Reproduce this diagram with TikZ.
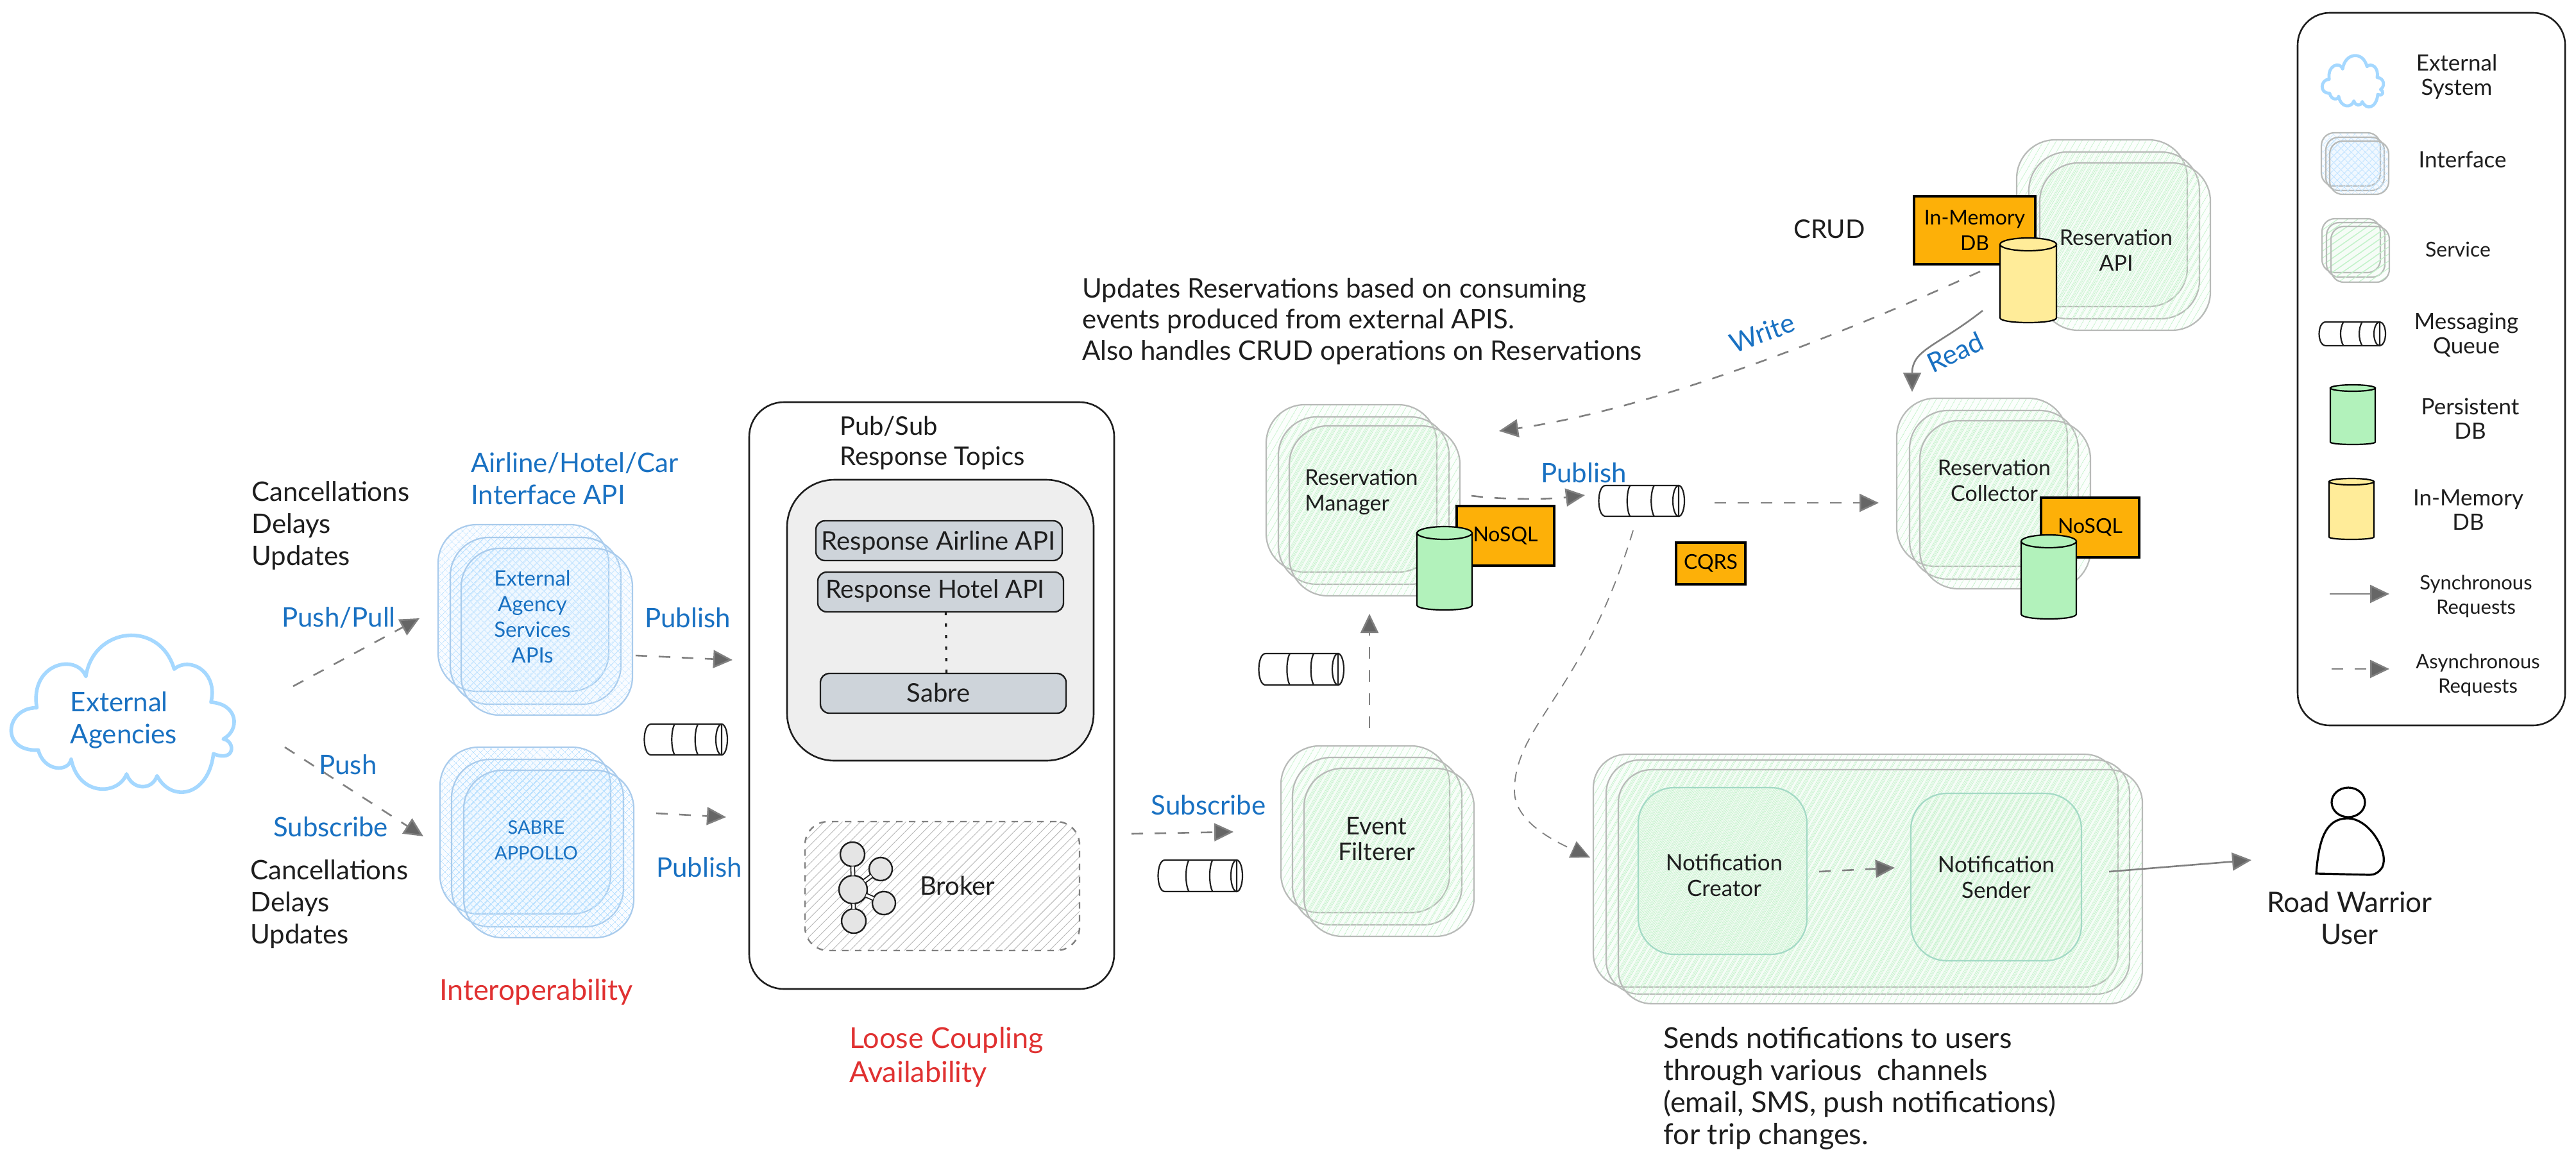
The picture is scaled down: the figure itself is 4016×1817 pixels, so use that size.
\documentclass[tikz,border=0pt]{standalone}
\usepackage{fontspec}
\setmainfont{Lato}
\usetikzlibrary{arrows.meta,patterns.meta,calc,positioning,shapes.geometric}
\definecolor{inkc}{HTML}{1E1E1E}
\definecolor{bluet}{HTML}{1971C2}
\definecolor{redt}{HTML}{E03131}
\definecolor{cloudb}{HTML}{A5D8FF}
\definecolor{ifcline}{HTML}{A9CBEC}
\definecolor{ifchatch}{HTML}{BCE2FF}
\definecolor{svcline}{HTML}{B8BAB8}
\definecolor{svchatch}{HTML}{C4F3CB}
\definecolor{innerline}{HTML}{A3D9C5}
\definecolor{arrowc}{HTML}{808080}
\definecolor{arrowf}{HTML}{666666}
\definecolor{orangeb}{HTML}{FDB008}
\definecolor{greend}{HTML}{B2F2BB}
\definecolor{yellowd}{HTML}{FFEC99}
\definecolor{topicg}{HTML}{EEEEEE}
\definecolor{topicb}{HTML}{CED4DA}
\tikzset{
  frame/.style={rectangle,draw=inkc,line width=1.3pt,inner sep=0pt,outer sep=0pt},
  svcbox/.style={rectangle,inner sep=0pt,outer sep=0pt,draw=svcline,line width=1.1pt,rounded corners=30pt,
    preaction={fill=svchatch,fill opacity=.05},
    pattern={Lines[angle=60,distance=4pt,line width=.45pt]},pattern color=svchatch},
  ifcbox/.style={rectangle,inner sep=0pt,outer sep=0pt,draw=ifcline,line width=1.1pt,rounded corners=30pt,
    preaction={fill=ifchatch,fill opacity=.07},
    preaction={pattern={Lines[angle=45,distance=4pt,line width=.35pt]},pattern color=ifchatch},
    pattern={Lines[angle=-45,distance=4pt,line width=.35pt]},pattern color=ifchatch},
  legsvc/.style={svcbox,rounded corners=10pt,pattern={Lines[angle=35,distance=4.5pt,line width=.55pt]}},
  legifc/.style={ifcbox,draw=svcline,rounded corners=10pt},
  bignotif/.style={svcbox,rounded corners=26pt},
  innernotif/.style={svcbox,draw=innerline,rounded corners=28pt},
  orangebox/.style={rectangle,draw=black,fill=orangeb,line width=1.6pt,inner sep=0pt,outer sep=0pt,align=center,
    font=\fontsize{16}{20}\selectfont,text=black},
  topicbox/.style={frame,fill=topicb,rounded corners=7pt,line width=1.2pt},
  hidden/.style={rectangle,inner sep=0pt,outer sep=0pt},
  txtL/.style={inner sep=0pt,align=left,font=\fontsize{21}{25}\selectfont,text=inkc},
  txtS/.style={inner sep=0pt,align=center,font=\fontsize{17}{20}\selectfont,text=inkc},
  txtI/.style={inner sep=0pt,align=center,font=\fontsize{16.5}{20}\selectfont,text=bluet},
  txtLeg/.style={inner sep=0pt,align=center,font=\fontsize{17.5}{19}\selectfont,text=inkc},
  bluelbl/.style={txtL,text=bluet},
  redlbl/.style={txtL,text=redt,font=\fontsize{22.5}{26.5}\selectfont},
  asyncarr/.style={draw=arrowc,line width=1.3pt,dash pattern=on 9pt off 9pt,
    -{Triangle[length=15pt,width=14pt,fill=arrowf]}},
  asyncthin/.style={draw=arrowc,line width=.9pt,dash pattern=on 8pt off 6pt,
    -{Triangle[length=15pt,width=14pt,fill=arrowf]}},
  syncarr/.style={draw=arrowc,line width=1.3pt,
    -{Triangle[length=15pt,width=14pt,fill=arrowf]}},
  dbline/.style={draw=black,line width=1.1pt},
  qline/.style={draw=inkc,line width=1.1pt},
  brokerball/.style={circle,draw=inkc,line width=1.2pt,fill=white!90!black,inner sep=0pt,outer sep=0pt},
  brokerlink/.style={draw=inkc,line width=.9pt,double=white,double distance=2pt},
  userline/.style={draw=black,line width=1.6pt,fill=white},
}
\newcommand{\boxat}[6]{% name, style, x0,y0,x1,y1
  \pgfmathsetmacro\rsW{(#5-#3)*.5}\pgfmathsetmacro\rsH{(#6-#4)*.5}%
  \pgfmathsetmacro\rsX{(#5+#3)*.5}\pgfmathsetmacro\rsY{(#6+#4)*.5}%
  \node[#2,minimum width=\rsW pt,minimum height=\rsH pt] (#1) at (\rsX,\rsY) {};}
\newcommand{\dbcyl}[7]{% name,x0,y0,x1,y1,colour,ry(pt)
  \boxat{#1}{hidden}{#2}{#3+2*#7}{#4}{#5-1.5*#7}
  \pgfmathsetmacro\rsR{(#4-#2)*.25}%
  \draw[dbline,fill=#6] (#1.north west) -- (#1.south west)
     .. controls ([yshift=-#7 pt]#1.south west) and ([yshift=-#7 pt]#1.south east) .. (#1.south east)
     -- (#1.north east) -- cycle;
  \draw[dbline,fill=#6] (#1.north) ellipse [x radius=\rsR pt,y radius=#7 pt];}
\newcommand{\queuebar}[5]{% name,x0,y0,x1,y1
  \boxat{#1}{hidden}{#2}{#3}{#4}{#5}
  \pgfmathsetmacro\rsR{(#5-#3)*.25}%
  \draw[qline,fill=white] ([xshift=5pt]#1.north west) -- ([xshift=-5pt]#1.north east)
     -- ([xshift=-5pt]#1.south east) -- ([xshift=5pt]#1.south west)
     .. controls ([xshift=-2pt]#1.south west) and ([xshift=-2pt]#1.north west) .. cycle;
  \draw[qline] ([xshift=-5pt]#1.east) ellipse [x radius=4.5pt,y radius=\rsR pt];
  \draw[qline] ($(#1.north west)!.36!(#1.north east)$) .. controls +(-3pt,-5pt) and +(-3pt,5pt) .. ($(#1.south west)!.36!(#1.south east)$);
  \draw[qline] ($(#1.north west)!.64!(#1.north east)$) .. controls +(-3pt,-5pt) and +(-3pt,5pt) .. ($(#1.south west)!.64!(#1.south east)$);}
\newcommand{\cloudoutline}{(75,790) .. controls (60,670) and (155,640) .. (175,705)
  .. controls (190,570) and (325,550) .. (355,685)
  .. controls (385,650) and (445,690) .. (430,775)
  .. controls (485,780) and (490,850) .. (455,875)
  .. controls (480,880) and (480,940) .. (435,915)
  .. controls (425,1030) and (350,1050) .. (320,975)
  .. controls (310,1015) and (270,1015) .. (258,970)
  .. controls (240,1030) and (160,1030) .. (145,930)
  .. controls (140,965) and (90,965) .. (78,905)
  .. controls (0,910) and (10,790) .. cycle}
\begin{document}
\begin{tikzpicture}[x=.5pt,y=-.5pt]
\path[use as bounding box,fill=white] (0,0) rectangle (4016,1817);

% ---- external agencies
\begin{scope}[x=.3825pt,y=-.287pt,yshift=-325pt]
  \draw[draw=cloudb,line width=2.8pt,line join=round] \cloudoutline;
\end{scope}
\boxat{cloud}{hidden}{17}{989}{366}{1235}
\node[bluelbl,align=left] (cloudtxt) at (193,1123) {External\\Agencies};

% ---- interface stacks
\boxat{ifa}{ifcbox}{683}{818}{949}{1078}
\boxat{ifb}{ifcbox}{702}{838}{968}{1098}
\boxat{ifc}{ifcbox}{719}{855}{986}{1115}
\node[txtI] (iftxt) at (830,961) {External\\Agency\\Services\\APIs};
\boxat{iga}{ifcbox}{686}{1165}{952}{1425}
\boxat{igb}{ifcbox}{704}{1184}{972}{1445}
\boxat{igc}{ifcbox}{723}{1201}{988}{1462}
\node[txtI,font=\fontsize{14.5}{20}\selectfont] (igtxt) at (836,1310) {SABRE\\APPOLLO};

\node[bluelbl,anchor=west] (apilbl) at (734,746) {Airline/Hotel/Car\\Interface API};
\node[txtL,anchor=west] (cdu1) at (392,820) {Cancellations\\Delays\\Updates};
\node[txtL,anchor=west] (cdu2) at (390,1410) {Cancellations\\Delays\\Updates};
\node[bluelbl,anchor=west] (pp) at (439,963) {Push/Pull};
\node[bluelbl,anchor=west] (pushl) at (497,1192) {Push};
\node[bluelbl,anchor=west] (subl) at (426,1289) {Subscribe};
\node[bluelbl,anchor=west] (publ1) at (1005,963) {Publish};
\node[bluelbl,anchor=west] (publ2) at (1023,1352) {Publish};
\node[redlbl,anchor=center] (interop) at (836,1547) {Interoperability};
\queuebar{q1}{1005}{1129}{1135}{1177}

% ---- pub/sub
\boxat{pubsub}{frame,rounded corners=27pt,fill=white}{1168}{627}{1737}{1542}
\node[txtL,font=\fontsize{20}{23.5}\selectfont,anchor=west] (pubtitle) at (1309,691) {Pub/Sub\\Response Topics};
\boxat{topics}{frame,rounded corners=37pt,fill=topicg}{1227}{748}{1705}{1186}
\boxat{tair}{topicbox}{1272}{812}{1656}{874}
\boxat{thot}{topicbox}{1275}{892}{1658}{954}
\boxat{tsab}{topicbox}{1279}{1050}{1662}{1112}
\node[txtL,font=\fontsize{20}{22}\selectfont] (tairt) at (1463,846) {Response Airline API};
\node[txtL,font=\fontsize{19.6}{22}\selectfont] (thott) at (1458,921) {Response Hotel API};
\node[txtL,font=\fontsize{20}{22}\selectfont] (tsabt) at (1463,1080) {Sabre};
\draw[draw=inkc,line width=1.6pt,dash pattern=on 2.5pt off 6.5pt] ([xshift=4pt]thot.south) -- ([xshift=2.5pt]tsab.north);
\boxat{brokerb}{rectangle,inner sep=0pt,draw=black!50,line width=1.2pt,rounded corners=18pt,dash pattern=on 5pt off 5pt,
   pattern={Lines[angle=45,distance=5pt,line width=.45pt]},pattern color=black!28}{1255}{1281}{1683}{1482}
\node[brokerball,minimum size=22pt] (bkc) at (1330,1387) {};
\node[brokerball,minimum size=19pt] (bkt) at (1329,1332) {};
\node[brokerball,minimum size=18pt] (bku) at (1373,1355) {};
\node[brokerball,minimum size=18pt] (bkl) at (1378,1408) {};
\node[brokerball,minimum size=19pt] (bkb) at (1331,1436) {};
\draw[brokerlink] (bkc) -- (bkt);
\draw[brokerlink] (bkc) -- (bku);
\draw[brokerlink] (bkc) -- (bkl);
\draw[brokerlink] (bkc) -- (bkb);
\node[txtL,font=\fontsize{20}{25}\selectfont,anchor=west] (brokert) at (1434,1381) {Broker};
\node[redlbl,anchor=west] (loose) at (1324,1648) {Loose Coupling\\Availability};

% ---- event filterer, manager
\node[bluelbl] (subl2) at (1884,1255) {Subscribe};
\queuebar{q2}{1806}{1341}{1938}{1390}
\queuebar{q3}{1963}{1019}{2096}{1068}
\boxat{fa}{svcbox}{1997}{1163}{2260}{1423}
\boxat{fb}{svcbox}{2015}{1181}{2279}{1442}
\boxat{fc}{svcbox}{2033}{1198}{2298}{1460}
\node[txtS,font=\fontsize{19}{20}\selectfont] (ftxt) at (2146,1308) {Event\\Filterer};
\boxat{ma}{svcbox}{1974}{631}{2240}{892}
\boxat{mb}{svcbox}{1993}{650}{2259}{911}
\boxat{mc}{svcbox}{2010}{664}{2276}{929}
\node[txtS,align=left,anchor=west] (mtxt) at (2034,767) {Reservation\\Manager};
\node[orangebox,minimum width=76pt,minimum height=46.5pt] (mnosql) at (2347,835.5) {NoSQL};
\dbcyl{mdb}{2209}{831}{2295}{941}{greend}{5}
\node[txtL,font=\fontsize{21}{24.2}\selectfont,anchor=west] (updt) at (1687,501) {Updates Reservations based on consuming\\events produced from external APIS.\\Also handles CRUD operations on Reservations};
\node[bluelbl] (publ3) at (2469,737) {Publish};
\queuebar{q4}{2493}{757}{2627}{805}
\node[orangebox,minimum width=54pt,minimum height=32.5pt] (cqrs) at (2667,878.5) {CQRS};

% ---- reservation API
\node[txtL,font=\fontsize{20}{22}\selectfont] (crud) at (2852,357) {CRUD};
\boxat{aa}{svcbox}{3144}{218}{3410}{478}
\boxat{ab}{svcbox}{3163}{237}{3429}{497}
\boxat{ac}{svcbox}{3180}{254}{3446}{515}
\node[txtS] (atxt) at (3299,390) {Reservation\\API};
\node[orangebox,minimum width=94.5pt,minimum height=53pt] (ammem) at (3078.5,359) {In-Memory\\DB};
\dbcyl{adb}{3118}{381}{3206}{493}{yellowd}{5}
\node[bluelbl,rotate=20] (writel) at (2747,519) {Write};
\node[bluelbl,rotate=25] (readl) at (3048,549) {Read};

% ---- collector
\boxat{ca}{svcbox}{2957}{621}{3223}{883}
\boxat{cb}{svcbox}{2977}{640}{3240}{903}
\boxat{cc}{svcbox}{2993}{656}{3259}{918}
\node[txtS] (ctxt) at (3109,749) {Reservation\\Collector};
\node[orangebox,minimum width=76.5pt,minimum height=46.5pt] (cnosql) at (3258.5,822.5) {NoSQL};
\dbcyl{cdb}{3151}{844}{3237}{955}{greend}{5}

% ---- notification
\boxat{na}{bignotif}{2484}{1176}{3302}{1539}
\boxat{nb}{bignotif}{2504}{1185}{3320}{1550}
\boxat{nc}{bignotif}{2523}{1200}{3340}{1565}
\boxat{ncr}{innernotif}{2554}{1228}{2817}{1488}
\boxat{nse}{innernotif}{2979}{1237}{3245}{1498}
\node[txtS,font=\fontsize{17.5}{20}\selectfont] (ncrt) at (2688,1365) {Notification\\Creator};
\node[txtS,font=\fontsize{17.5}{20}\selectfont] (nset) at (3112,1368) {Notification\\Sender};
\node[txtL,font=\fontsize{22.5}{25}\selectfont,anchor=west] (sends) at (2593,1697) {Sends notifications to users\\through various\ \ channels\\(email, SMS, push notifications)\\for trip changes.};

% ---- user
\boxat{user}{hidden}{3611}{1228}{3716}{1364}
\draw[userline] (3611,1362) .. controls (3615,1310) and (3625,1276) .. (3660,1276)
   .. controls (3695,1276) and (3725,1330) .. (3714,1352) .. controls (3708,1362) and (3700,1364) .. (3694,1364) -- cycle;
\node[ellipse,minimum width=26pt,minimum height=23pt,inner sep=0pt,userline] (uhead) at (3661,1251) {};
\node[txtL,align=center,font=\fontsize{22}{25}\selectfont] (usert) at (3663,1431) {Road Warrior\\User};

% ---- connectors
\draw[asyncarr] ([shift={(91,-42)}]cloud.east) -- ([shift={(-29,16)}]ifa.west);
\draw[asyncarr] ([shift={(78,53)}]cloud.east) -- ([shift={(-26,9)}]iga.west);
\draw[asyncarr] ([shift={(5,37)}]ifc.east) -- ([shift={(-26,-55.5)}]pubsub.west);
\draw[asyncarr] ([shift={(35,-63.5)}]igc.east) -- ([shift={(-36,189.5)}]pubsub.west);
\draw[asyncarr] ([shift={(27,215.5)}]pubsub.east) -- ([shift={(-74,4)}]fa.west);
\draw[asyncarr] ([shift={(6.5,-28)}]fa.north) -- ([shift={(-8,28)}]mc.south);
\draw[asyncarr] ([shift={(18,-23.5)}]mc.east) .. controls +(28pt,-3.5pt) and +(-25pt,-3pt) .. ([shift={(-22,-9)}]q4.west);
\draw[asyncarr] ([shift={(46,3)}]q4.east) -- ([shift={(-28,32)}]ca.west);
\draw[asyncarr] ([shift={(-75,-15)}]adb.center) .. controls (2830,540) and (2560,640) .. ([shift={(61,-124.5)}]mc.east);
\draw[syncarr] ([shift={(-71,46)}]adb.center) .. controls (3020,540) and (2981,545) .. ([shift={(-109,-10)}]ca.north);
\draw[asyncthin] ([shift={(-14,22)}]q4.south) .. controls (2470,1080) and (2361,1130) .. (2361,1233)
    .. controls (2361,1280) and (2420,1310) .. ([shift={(-5,-20.5)}]na.west);
\draw[asyncarr] ([shift={(19,1)}]ncr.east) -- ([shift={(-25,-14.5)}]nse.west);
\draw[syncarr] ([shift={(43,-8.5)}]nse.east) -- ([shift={(-101,45)}]user.west);

% ---- legend
\boxat{legend}{frame,rounded corners=25pt,fill=white}{3582}{20}{3999}{1131}
\begin{scope}[x=.10525pt,y=-.094pt,xshift=1807.7pt,yshift=12.46pt]
  \draw[draw=cloudb,line width=2.4pt,line join=round] \cloudoutline;
\end{scope}
\node[txtLeg] (l1) at (3830,120) {External\\System};
\boxat{lia}{legifc}{3619}{207}{3711}{290}
\boxat{lib}{legifc}{3626}{214}{3717}{297}
\boxat{lic}{legifc}{3632}{220}{3724}{303}
\node[txtLeg] (l2) at (3839,249) {Interface};
\boxat{lsa}{legsvc}{3620}{341}{3711}{425}
\boxat{lsb}{legsvc}{3627}{347}{3718}{432}
\boxat{lsc}{legsvc}{3634}{353}{3725}{440}
\node[txtLeg,font=\fontsize{16}{19}\selectfont] (l3) at (3832,389) {Service};
\queuebar{lq}{3616}{502}{3720}{539}
\node[txtLeg] (l4) at (3845,522) {Messaging\\Queue};
\dbcyl{ldb1}{3633}{605}{3703}{688}{greend}{2.5}
\node[txtLeg] (l5) at (3851,653) {Persistent\\DB};
\dbcyl{ldb2}{3631}{751}{3701}{836}{yellowd}{2.5}
\node[txtLeg] (l6) at (3848,795) {In-Memory\\DB};
\coordinate (lsyncs) at (3632,926);
\coordinate (lsynce) at (3725,926);
\draw[syncarr] (lsyncs) -- (lsynce);
\node[txtLeg,font=\fontsize{15.5}{19}\selectfont] (l7) at (3860,930) {Synchronous\\Requests};
\coordinate (lasyncs) at (3635,1043);
\coordinate (lasynce) at (3725,1043);
\draw[asyncarr] (lasyncs) -- (lasynce);
\node[txtLeg,font=\fontsize{15.5}{19}\selectfont] (l8) at (3863,1053) {Asynchronous\\Requests};
\end{tikzpicture}
\end{document}
